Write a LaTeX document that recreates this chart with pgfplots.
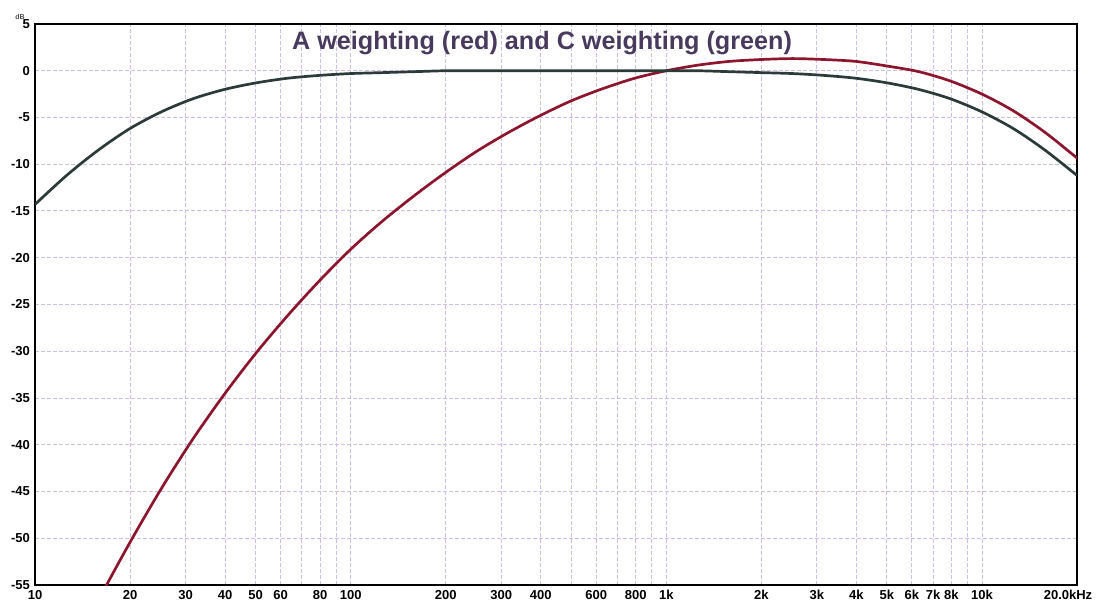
\documentclass[border=0pt]{standalone}
\usepackage{fontspec}
\setmainfont{Liberation Sans}
\setsansfont{Liberation Sans}
\usepackage{pgfplots}
\pgfplotsset{compat=1.18}
\definecolor{aw}{RGB}{140,22,45}
\definecolor{cw}{RGB}{45,58,58}
\definecolor{gridc}{RGB}{205,192,232}
\definecolor{titlec}{RGB}{72,58,92}
\begin{document}
\begin{tikzpicture}
\useasboundingbox (-17.5pt,-10.5pt) rectangle (531pt,292.5pt);
\begin{axis}[
  scale only axis,
  width=521pt, height=280.5pt,
  xmode=log, log basis x=10,
  xmin=10, xmax=20000, ymin=-55, ymax=5,
  xtick={10,20,30,40,50,60,70,80,90,100,200,300,400,500,600,700,800,900,1000,2000,3000,4000,5000,6000,7000,8000,9000,10000,20000},
  xticklabels={10,20,30,40,50,60,{},80,{},100,200,300,400,{},600,{},800,{},1k,2k,3k,4k,5k,6k,7k,8k,{},10k,{\makebox[0pt]{\kern-9pt 20.0kHz}}},
  ytick={-55,-50,-45,-40,-35,-30,-25,-20,-15,-10,-5,0,5},
  yticklabels={-55,-50,-45,-40,-35,-30,-25,-20,-15,-10,-5,0,5},
  minor xtick={},
  major tick length=0pt,
  tick label style={font=\fontsize{6.5}{7}\selectfont\bfseries},
  xticklabel style={yshift=1pt},
  yticklabel style={xshift=1pt},
  grid=major,
  major grid style={gridc, line width=0.5pt, dash pattern=on 2pt off 1pt},
  axis line style={black, line width=1pt},
  clip=true,
]
\addplot[aw, line width=1.35pt, smooth] coordinates {
(10,-70.4) (12.589,-63.4) (15.849,-56.7) (19.953,-50.5) (25.119,-44.7) (31.623,-39.4) (39.811,-34.6) (50.119,-30.2) (63.096,-26.2) (79.433,-22.5) (100,-19.1) (125.89,-16.1) (158.49,-13.4) (199.53,-10.9) (251.19,-8.6) (316.23,-6.6) (398.11,-4.8) (501.19,-3.2) (630.96,-1.9) (794.33,-0.8) (1000,0) (1258.9,0.6) (1584.9,1.0) (1995.3,1.2) (2511.9,1.3) (3162.3,1.2) (3981.1,1.0) (5011.9,0.5) (6309.6,-0.1) (7943.3,-1.1) (10000,-2.5) (12589,-4.3) (15849,-6.6) (19953,-9.3) (20000,-9.3)
};
\addplot[cw, line width=1.35pt, smooth] coordinates {
(10,-14.3) (12.589,-11.2) (15.849,-8.5) (19.953,-6.2) (25.119,-4.4) (31.623,-3.0) (39.811,-2.0) (50.119,-1.3) (63.096,-0.8) (79.433,-0.5) (100,-0.3) (125.89,-0.2) (158.49,-0.1) (199.53,0) (251.19,0) (316.23,0) (398.11,0) (501.19,0) (630.96,0) (794.33,0) (1000,0) (1258.9,0) (1584.9,-0.1) (1995.3,-0.2) (2511.9,-0.3) (3162.3,-0.5) (3981.1,-0.8) (5011.9,-1.3) (6309.6,-2.0) (7943.3,-3.0) (10000,-4.4) (12589,-6.2) (15849,-8.5) (20000,-11.2)
};
\node[font=\fontsize{12.6}{14}\selectfont\bfseries, text=titlec] at (rel axis cs:0.4866,0.966) {A weighting (red) and C weighting (green)};
\end{axis}
\node[font=\fontsize{3.5}{4}\selectfont\bfseries, text=black!70] at (-7.5pt,284pt) {dB};
\end{tikzpicture}
\end{document}
